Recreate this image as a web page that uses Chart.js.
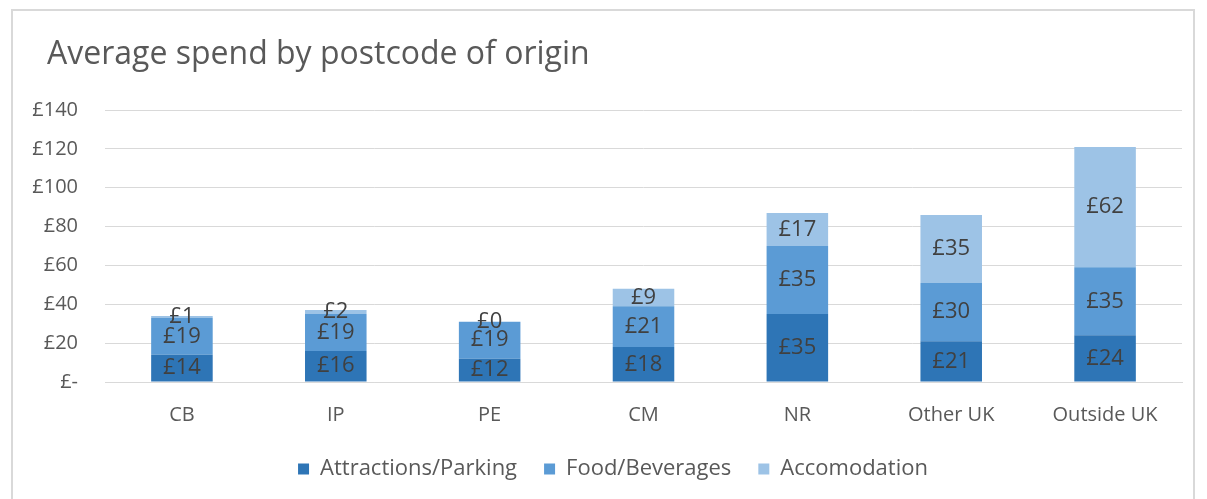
<!DOCTYPE html>
<html>
<head>
<meta charset="utf-8">
<script src="https://cdn.jsdelivr.net/npm/chart.js@4/dist/chart.umd.min.js"></script>
<style>
  body { margin: 0; background: #fff; }
  #wrap { position: relative; width: 1207px; height: 499px; }
  #frame { position: absolute; left: 11px; top: 9px; width: 1184px; height: 500px; border: 2px solid #d9d9d9; box-sizing: border-box; }
  canvas { position: absolute; left: 0; top: 0; }
</style>
</head>
<body>
<div id="wrap">
  <div id="frame"></div>
  <canvas id="chart" width="1207" height="499"></canvas>
</div>
<script>
// データ
const categories = ["CB", "IP", "PE", "CM", "NR", "Other UK", "Outside UK"];
const attractionsParking = [14, 16, 12, 18, 35, 21, 24];
const foodBeverages = [19, 19, 19, 21, 35, 30, 35];
const accomodation = [1, 2, 0, 9, 17, 35, 62];
const yTicks = [0, 20, 40, 60, 80, 100, 120, 140];
const chartTitle = 'Average spend by postcode of origin';

const FONT = "'Open Sans', sans-serif";

// タイトルを左上に描くプラグイン
const titleText = {
    id: 'titleText',
    afterDraw(chart) {
        const ctx = chart.ctx;
        ctx.save();
        ctx.font = "32px " + FONT;
        ctx.fillStyle = "#595959";
        ctx.textAlign = "left";
        ctx.textBaseline = "middle";
        ctx.fillText(chartTitle, 47, 55);
        ctx.restore();
    }
};

// 凡例を少し右へずらす
const legendShift = {
    id: 'legendShift',
    afterLayout(chart) {
        chart.legend.left += 22;
        chart.legend.right += 22;
    }
};

// 棒の中央に値を描くプラグイン
const valueLabels = {
    id: 'valueLabels',
    afterDatasetsDraw(chart) {
        const ctx = chart.ctx;
        ctx.save();
        ctx.font = "22px " + FONT;
        ctx.fillStyle = "#404040";
        ctx.textAlign = "center";
        ctx.textBaseline = "middle";
        chart.data.datasets.forEach(function (ds, i) {
            chart.getDatasetMeta(i).data.forEach(function (bar, j) {
                const y = (bar.y + bar.base) / 2;
                ctx.fillText("£" + ds.data[j], bar.x, y);
            });
        });
        ctx.restore();
    }
};

new Chart(document.getElementById('chart'), {
    type: 'bar',
    data: {
        labels: categories,
        datasets: [
            { label: 'Attractions/Parking', data: attractionsParking, backgroundColor: '#2e75b6' },
            { label: 'Food/Beverages', data: foodBeverages, backgroundColor: '#5b9bd5' },
            { label: 'Accomodation', data: accomodation, backgroundColor: '#9dc3e6' }
        ]
    },
    options: {
        responsive: false,
        animation: false,
        categoryPercentage: 1,
        barPercentage: 0.4,
        layout: { padding: { left: 0, right: 25, top: 110, bottom: 9 } },
        plugins: {
            title: { display: false },
            legend: {
                position: 'bottom',
                labels: {
                    color: '#595959',
                    font: { family: FONT, size: 22 },
                    boxWidth: 11,
                    boxHeight: 11,
                    padding: 27
                }
            },
            tooltip: { enabled: false }
        },
        scales: {
            x: {
                stacked: true,
                afterFit: function (scale) { scale.height = 49; },
                grid: { display: false, drawTicks: false },
                border: { color: '#d9d9d9', width: 1 },
                ticks: { color: '#595959', font: { family: FONT, size: 20 }, padding: 21 }
            },
            y: {
                stacked: true,
                min: 0,
                max: 140,
                afterFit: function (scale) { scale.width = 105; },
                afterBuildTicks: function (scale) { scale.ticks = yTicks.map(v => ({ value: v })); },
                grid: { color: '#d9d9d9', drawTicks: false },
                border: { display: false },
                ticks: {
                    color: '#595959',
                    font: { family: FONT, size: 20 },
                    padding: 27,
                    callback: function (v) { return v === 0 ? '£-' : '£' + v; }
                }
            }
        }
    },
    plugins: [valueLabels, titleText, legendShift]
});
</script>
</body>
</html>
